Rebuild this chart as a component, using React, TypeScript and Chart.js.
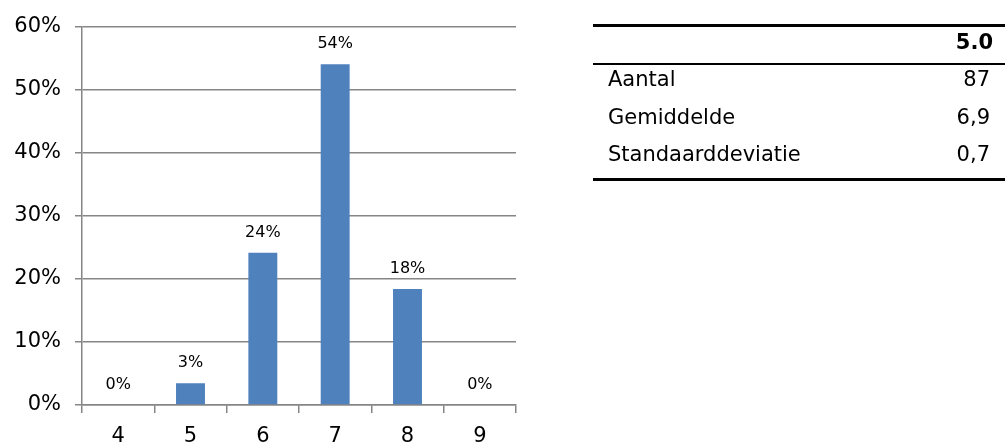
import React, { useEffect, useRef } from "react";
import { Chart, registerables } from "chart.js";

Chart.register(...registerables);

const categories = ["4", "5", "6", "7", "8", "9"];
const percentages = [0, 3.45, 24.14, 54.02, 18.39, 0];
const yTicks = [0, 10, 20, 30, 40, 50, 60];

const tableHeader = "5.0";
const tableLabels = ["Aantal", "Gemiddelde", "Standaarddeviatie"];
const tableValues = ["87", "6,9", "0,7"];

const FONT = "'DejaVu Sans', Verdana, sans-serif";
const GRID = "#868686";
const BAR = "#4F81BD";

const labelPlugin = {
  id: "barLabels",
  afterDatasetsDraw(chart: any) {
    const ctx = chart.ctx;
    const meta = chart.getDatasetMeta(0);
    ctx.save();
    ctx.font = `16px ${FONT}`;
    ctx.fillStyle = "#000";
    ctx.textAlign = "center";
    ctx.textBaseline = "middle";
    meta.data.forEach((el: any, i: number) => {
      const v = percentages[i];
      ctx.fillText(Math.round(v) + "%", el.x, el.y - 20);
    });
    ctx.restore();
  },
};

function BarChart() {
  const ref = useRef<HTMLCanvasElement>(null);
  useEffect(() => {
    if (!ref.current) return;
    const chart = new Chart(ref.current, {
      type: "bar",
      data: {
        labels: categories,
        datasets: [
          {
            data: percentages,
            backgroundColor: BAR,
            borderWidth: 0,
            barPercentage: 0.4,
            categoryPercentage: 1.0,
          },
        ],
      },
      options: {
        animation: false,
        responsive: false,
        devicePixelRatio: 1,
        layout: { padding: { top: 24, right: 24, left: 0, bottom: 0 } },
        plugins: { legend: { display: false }, tooltip: { enabled: false } },
        scales: {
          x: {
            afterFit: (s: any) => {
              s.height = 37;
            },
            grid: {
              offset: true,
              drawOnChartArea: false,
              drawTicks: true,
              tickLength: 8,
              color: GRID,
              lineWidth: 1.5,
            },
            border: { color: GRID, width: 1.5 },
            ticks: { color: "#000", font: { family: FONT, size: 21 }, padding: 11 },
          },
          y: {
            min: 0,
            max: 60,
            afterFit: (s: any) => {
              s.width = 82;
            },
            afterBuildTicks: (s: any) => {
              s.ticks = yTicks.map((v) => ({ value: v }));
            },
            grid: {
              color: GRID,
              lineWidth: 1.5,
              tickLength: 7,
            },
            border: { color: GRID, width: 1.5 },
            ticks: {
              color: "#000",
              font: { family: FONT, size: 21 },
              padding: 14,
              callback: (v: any) => v + "%",
            },
          },
        },
      },
      plugins: [labelPlugin],
    });
    return () => chart.destroy();
  }, []);
  return (
    <canvas
      ref={ref}
      width={540}
      height={442}
      style={{ position: "absolute", left: 0, top: 0, width: 540, height: 442 }}
    />
  );
}

function StatsTable() {
  const textStyle: React.CSSProperties = {
    position: "absolute",
    fontFamily: FONT,
    fontSize: 21,
    lineHeight: "21px",
    color: "#000",
    whiteSpace: "nowrap",
  };
  const rowTops = [69, 106.5, 143.5];
  return (
    <div style={{ position: "absolute", left: 0, top: 0, width: 1005, height: 442 }}>
      <div style={{ position: "absolute", left: 593, top: 24, width: 412, height: 3, background: "#000" }} />
      <div style={{ position: "absolute", left: 593, top: 62.5, width: 412, height: 2, background: "#000" }} />
      <div style={{ position: "absolute", left: 593, top: 178, width: 412, height: 3, background: "#000" }} />
      <div style={{ ...textStyle, right: 1005 - 993, top: 31.5, fontWeight: "bold", textAlign: "right" }}>
        {tableHeader}
      </div>
      {tableLabels.map((l, i) => (
        <React.Fragment key={l}>
          <div style={{ ...textStyle, left: 608, top: rowTops[i] }}>{l}</div>
          <div style={{ ...textStyle, right: 1005 - 990, top: rowTops[i], textAlign: "right" }}>
            {tableValues[i]}
          </div>
        </React.Fragment>
      ))}
    </div>
  );
}

export default function App() {
  return (
    <div style={{ position: "absolute", left: 0, top: 0, width: 1005, height: 442, background: "#fff", overflow: "hidden" }}>
      <BarChart />
      <StatsTable />
    </div>
  );
}
